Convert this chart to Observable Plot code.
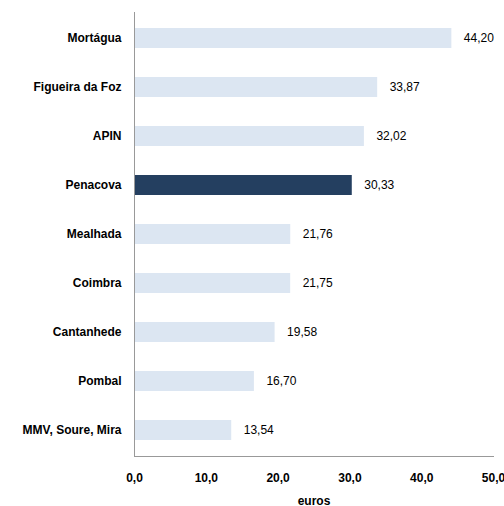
<!DOCTYPE html>
<html><head><meta charset="utf-8">
<script src="https://cdn.jsdelivr.net/npm/d3@7"></script>
<script src="https://cdn.jsdelivr.net/npm/@observablehq/plot@0.6"></script>
<style>body{margin:0;background:#fff}</style>
</head><body><div id="chart"></div>
<script>
const categories = ["Mortágua","Figueira da Foz","APIN","Penacova","Mealhada","Coimbra","Cantanhede","Pombal","MMV, Soure, Mira"];
const values = [44.20,33.87,32.02,30.33,21.76,21.75,19.58,16.70,13.54];
const highlight = "Penacova";
const xTicks = [0,10,20,30,40,50];

const data = categories.map((c,i)=>({cat:c, value:values[i]}));
const fmt2 = v => v.toFixed(2).replace(".", ",");
const fmt1 = v => v.toFixed(1).replace(".", ",");
const font = "'Liberation Sans Narrow','Arial Narrow','Liberation Sans',Arial,sans-serif";

const chart = Plot.plot({
  width: 504, height: 506,
  marginLeft: 134, marginRight: 11, marginTop: 12, marginBottom: 50,
  style: {fontFamily: font, fontSize: "12px", color: "#000", background: "#fff"},
  x: {domain: [0,50]},
  y: {domain: categories, paddingInner: 0.595, paddingOuter: 0.28},
  marks: [
    Plot.barX(data, {y: "cat", x: "value", fill: d => d.cat === highlight ? "#243f60" : "#dce6f2"}),
    Plot.text(data, {y: "cat", x: "value", text: d => fmt2(d.value), textAnchor: "start", dx: 12, fill: "#000", fontSize: 12}),
    Plot.axisY({tickSize: 0, tickPadding: 13, fontWeight: "bold", fontSize: 12, label: null}),
    Plot.axisX({ticks: xTicks, tickSize: 0, tickPadding: 17, tickFormat: fmt1, fontWeight: "bold", fontSize: 12, label: "euros", labelAnchor: "center", labelArrow: "none", labelOffset: 48}),
    Plot.ruleX([0], {stroke: "#999"}),
    Plot.frame({anchor: "bottom", stroke: "#999"})
  ]
});
chart.querySelectorAll("[aria-label='x-axis label']").forEach(g => g.setAttribute("font-weight","bold"));
document.getElementById("chart").append(chart);
</script>
</body></html>
